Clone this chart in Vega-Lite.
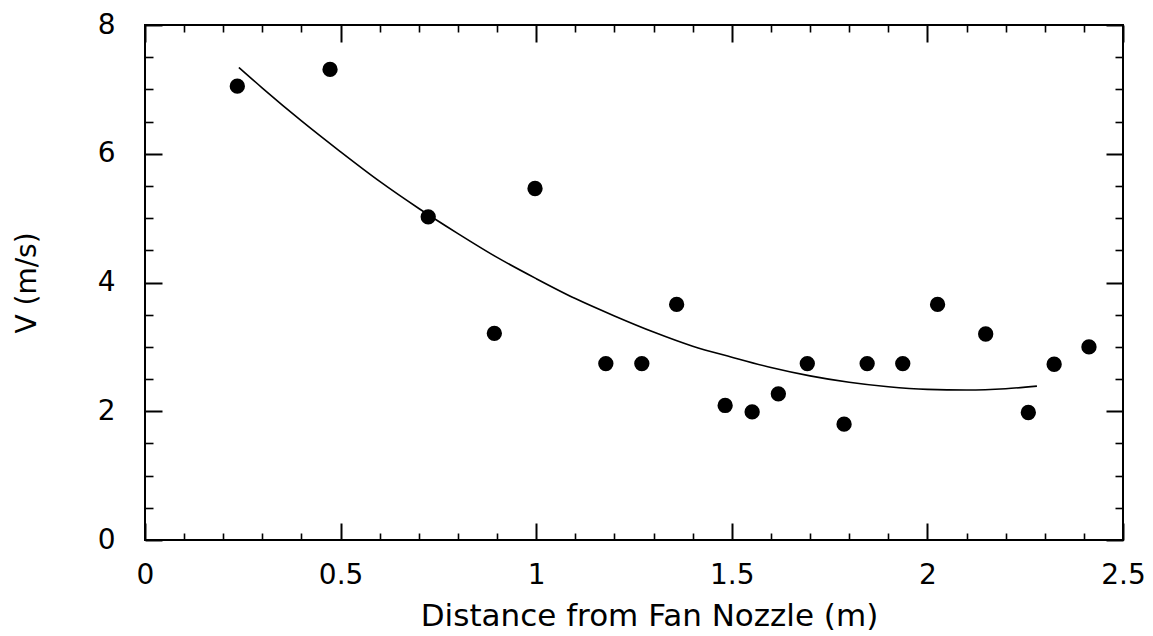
{
  "$schema": "https://vega.github.io/schema/vega-lite/v6.json",
  "width": 978,
  "height": 515,
  "autosize": {"type": "none"},
  "padding": {"left": 145, "top": 25, "right": 30, "bottom": 96},
  "background": "white",
  "config": {
    "view": {"stroke": "black", "strokeWidth": 2},
    "font": "DejaVu Sans",
    "axis": {"grid": false, "domain": false, "labelColor": "black", "titleColor": "black", "tickColor": "black", "titleFontWeight": "normal"}
  },
  "datasets": {
    "points": [
      {"d": 0.236, "v": 7.05}, {"d": 0.473, "v": 7.31}, {"d": 0.724, "v": 5.02}, {"d": 0.893, "v": 3.21},
      {"d": 0.997, "v": 5.46}, {"d": 1.178, "v": 2.74}, {"d": 1.270, "v": 2.74}, {"d": 1.359, "v": 3.66},
      {"d": 1.483, "v": 2.09}, {"d": 1.552, "v": 1.99}, {"d": 1.619, "v": 2.27}, {"d": 1.693, "v": 2.74},
      {"d": 1.787, "v": 1.80}, {"d": 1.846, "v": 2.74}, {"d": 1.937, "v": 2.74}, {"d": 2.026, "v": 3.66},
      {"d": 2.149, "v": 3.20}, {"d": 2.258, "v": 1.98}, {"d": 2.324, "v": 2.73}, {"d": 2.413, "v": 3.00}
    ],
    "curve": [
      {"d": 0.24, "v": 7.34}, {"d": 0.3, "v": 7.02}, {"d": 0.4, "v": 6.51}, {"d": 0.5, "v": 6.03},
      {"d": 0.6, "v": 5.57}, {"d": 0.7, "v": 5.15}, {"d": 0.8, "v": 4.76}, {"d": 0.9, "v": 4.39},
      {"d": 1.0, "v": 4.06}, {"d": 1.1, "v": 3.75}, {"d": 1.2, "v": 3.48}, {"d": 1.3, "v": 3.23},
      {"d": 1.4, "v": 3.01}, {"d": 1.5, "v": 2.84}, {"d": 1.6, "v": 2.68}, {"d": 1.7, "v": 2.55},
      {"d": 1.8, "v": 2.45}, {"d": 1.9, "v": 2.38}, {"d": 2.0, "v": 2.34}, {"d": 2.1, "v": 2.33},
      {"d": 2.2, "v": 2.35}, {"d": 2.28, "v": 2.39}
    ]
  },
  "resolve": {"axis": {"x": "independent", "y": "independent"}},
  "layer": [
    {
      "data": {"name": "curve"},
      "mark": {"type": "line", "color": "black", "strokeWidth": 1.6, "interpolate": "monotone"},
      "encoding": {
        "x": {"field": "d", "type": "quantitative", "scale": {"domain": [0, 2.5], "nice": false},
          "axis": {"orient": "bottom", "values": [0, 0.5, 1, 1.5, 2, 2.5], "labels": false, "tickSize": -17, "tickWidth": 2, "title": null}},
        "y": {"field": "v", "type": "quantitative", "scale": {"domain": [0, 8], "nice": false},
          "axis": {"orient": "left", "values": [0, 2, 4, 6, 8], "labels": false, "tickSize": -17, "tickWidth": 2, "title": null}}
      }
    },
    {
      "data": {"name": "points"},
      "mark": {"type": "point", "filled": true, "color": "black", "opacity": 1, "size": 235},
      "encoding": {
        "x": {"field": "d", "type": "quantitative", "scale": {"domain": [0, 2.5], "nice": false},
          "axis": {"orient": "bottom", "values": [0, 0.5, 1, 1.5, 2, 2.5], "format": "~g", "ticks": false, "labelPadding": 21, "labelFontSize": 28, "labelFlush": false, "labelOverlap": false,
            "title": "Distance from Fan Nozzle (m)", "titleFontSize": 31, "titleX": 504, "titleY": 76, "titleBaseline": "middle", "titleAlign": "center"}},
        "y": {"field": "v", "type": "quantitative", "scale": {"domain": [0, 8], "nice": false},
          "axis": {"orient": "left", "values": [0, 2, 4, 6, 8], "format": "~g", "ticks": false, "labelPadding": 30, "labelFontSize": 28, "labelFlush": false, "labelOverlap": false,
            "title": "V (m/s)", "titleFontSize": 28, "titleX": -118, "titleY": 257.5, "titleBaseline": "middle", "titleAlign": "center"}}
      }
    },
    {
      "data": {"name": "points"},
      "mark": {"type": "point", "opacity": 0},
      "encoding": {
        "x": {"field": "d", "type": "quantitative", "scale": {"domain": [0, 2.5], "nice": false},
          "axis": {"orient": "bottom", "values": [0.1, 0.2, 0.3, 0.4, 0.6, 0.7, 0.8, 0.9, 1.1, 1.2, 1.3, 1.4, 1.6, 1.7, 1.8, 1.9, 2.1, 2.2, 2.3, 2.4], "labels": false, "tickSize": -7, "tickWidth": 1.6, "title": null}},
        "y": {"field": "v", "type": "quantitative", "scale": {"domain": [0, 8], "nice": false},
          "axis": {"orient": "left", "values": [0.5, 1, 1.5, 2.5, 3, 3.5, 4.5, 5, 5.5, 6.5, 7, 7.5], "labels": false, "tickSize": -8, "tickWidth": 1.6, "title": null}}
      }
    },
    {
      "data": {"name": "points"},
      "mark": {"type": "point", "opacity": 0},
      "encoding": {
        "x": {"field": "d", "type": "quantitative", "scale": {"domain": [0, 2.5], "nice": false},
          "axis": {"orient": "top", "values": [0, 0.5, 1, 1.5, 2, 2.5], "labels": false, "tickSize": -17, "tickWidth": 2, "title": null}},
        "y": {"field": "v", "type": "quantitative", "scale": {"domain": [0, 8], "nice": false},
          "axis": {"orient": "right", "values": [0, 2, 4, 6, 8], "labels": false, "tickSize": -17, "tickWidth": 2, "title": null}}
      }
    },
    {
      "data": {"name": "points"},
      "mark": {"type": "point", "opacity": 0},
      "encoding": {
        "x": {"field": "d", "type": "quantitative", "scale": {"domain": [0, 2.5], "nice": false},
          "axis": {"orient": "top", "values": [0.1, 0.2, 0.3, 0.4, 0.6, 0.7, 0.8, 0.9, 1.1, 1.2, 1.3, 1.4, 1.6, 1.7, 1.8, 1.9, 2.1, 2.2, 2.3, 2.4], "labels": false, "tickSize": -7, "tickWidth": 1.6, "title": null}},
        "y": {"field": "v", "type": "quantitative", "scale": {"domain": [0, 8], "nice": false},
          "axis": {"orient": "right", "values": [0.5, 1, 1.5, 2.5, 3, 3.5, 4.5, 5, 5.5, 6.5, 7, 7.5], "labels": false, "tickSize": -8, "tickWidth": 1.6, "title": null}}
      }
    }
  ]
}
